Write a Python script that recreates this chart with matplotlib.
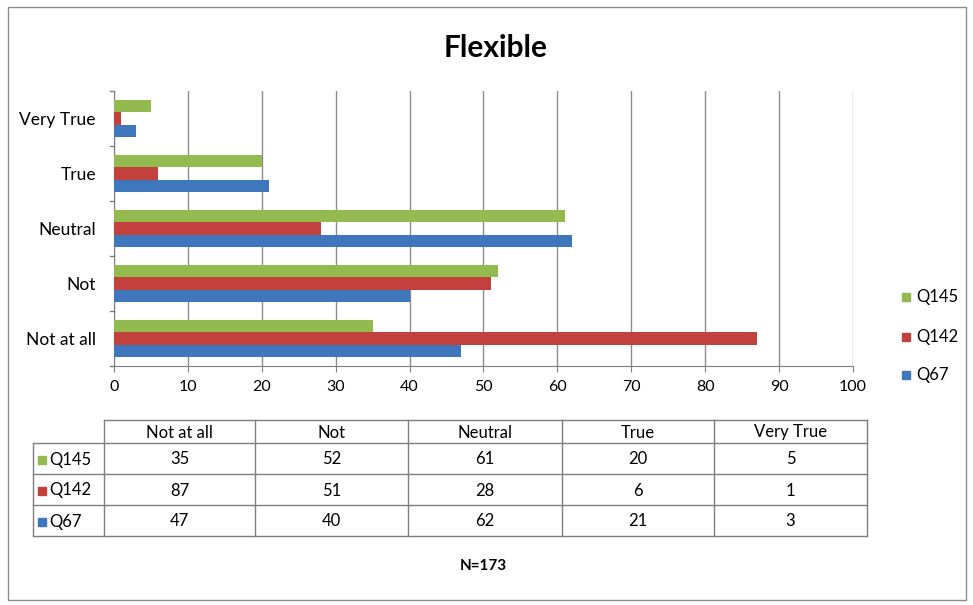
import numpy as np
import matplotlib.pyplot as plt
from matplotlib.lines import Line2D
from matplotlib.patches import Rectangle

plt.rcParams['font.family'] = ['Lato', 'DejaVu Sans']

categories = ["Not at all", "Not", "Neutral", "True", "Very True"]
series_names = ["Q67", "Q142", "Q145"]
q67 = [47, 40, 62, 21, 3]
q142 = [87, 51, 28, 6, 1]
q145 = [35, 52, 61, 20, 5]
colors = {"Q67": "#3F77BC", "Q142": "#C2413C", "Q145": "#93BA4E"}
values = {"Q67": q67, "Q142": q142, "Q145": q145}

W, H = 973, 605
fig = plt.figure(figsize=(W / 100, H / 100), dpi=100)


def fx(px):
    return px / W


def fy(py):
    return 1 - py / H


# outer chart border
fig.add_artist(Rectangle((fx(8), fy(600)), fx(958), 593 / H, fill=False,
                         edgecolor="#8c8c8c", lw=1.0, transform=fig.transFigure))

ax = fig.add_axes([fx(114), fy(366), fx(853 - 114), (366 - 91) / H])
y = np.arange(len(categories))
bh = 0.225
for i, name in enumerate(series_names):
    ax.barh(y + (i - 1) * bh, values[name], height=bh, color=colors[name],
            edgecolor="none", zorder=3)

ax.set_xlim(0, 100)
ax.set_ylim(-0.5, len(categories) - 0.5)
ax.set_xticks(np.arange(0, 101, 10))
ax.set_yticks(y)
ax.set_yticklabels(categories, fontsize=12.5)
ax.tick_params(axis="y", length=0, pad=13)
ax.tick_params(axis="x", length=4, color="#7f7f7f", labelsize=11.5, pad=6)
# category boundary ticks on y axis
for b in np.arange(-0.5, len(categories), 1):
    ax.plot([-0.006, 0], [b, b], color="#7f7f7f", lw=1, transform=ax.get_yaxis_transform(),
            clip_on=False)
ax.grid(axis="x", color="#8c8c8c", lw=1, zorder=0)
for s in ["top", "right"]:
    ax.spines[s].set_visible(False)
ax.spines["left"].set_color("#7f7f7f")
ax.spines["bottom"].set_color("#7f7f7f")

fig.text(fx(496), fy(48), "Flexible", ha="center", va="center", fontsize=21.5,
         fontweight="bold")

# legend
leg_y = {"Q145": 297, "Q142": 337, "Q67": 375}
for name in series_names:
    fig.add_artist(Rectangle((fx(902), fy(leg_y[name] + 4)), fx(8), 8 / H,
                             color=colors[name], transform=fig.transFigure))
    fig.text(fx(916), fy(leg_y[name]), name, va="center", fontsize=12)

# data table
col_x = [33, 104, 255, 408, 562, 714, 867]
row_y = [420, 443, 474, 505, 536]
lc = "#7f7f7f"


def hline(x0, x1, yy):
    fig.add_artist(Line2D([fx(x0), fx(x1)], [fy(yy), fy(yy)], color=lc, lw=1,
                          transform=fig.transFigure))


def vline(xx, y0, y1):
    fig.add_artist(Line2D([fx(xx), fx(xx)], [fy(y0), fy(y1)], color=lc, lw=1,
                          transform=fig.transFigure))


hline(col_x[1], col_x[-1], row_y[0])
for yy in row_y[1:]:
    hline(col_x[0], col_x[-1], yy)
vline(col_x[0], row_y[1], row_y[-1])
for xx in col_x[1:]:
    vline(xx, row_y[0], row_y[-1])

for j, cat in enumerate(categories):
    cx = (col_x[j + 1] + col_x[j + 2]) / 2
    fig.text(fx(cx), fy((row_y[0] + row_y[1]) / 2 + 1), cat, ha="center", va="center",
             fontsize=12)

table_order = ["Q145", "Q142", "Q67"]
for r, name in enumerate(table_order):
    cy = (row_y[r + 1] + row_y[r + 2]) / 2 + 1
    fig.add_artist(Rectangle((fx(38), fy(cy + 4)), fx(8), 8 / H, color=colors[name],
                             transform=fig.transFigure))
    fig.text(fx(49), fy(cy), name, va="center", fontsize=12)
    for j, v in enumerate(values[name]):
        cx = (col_x[j + 1] + col_x[j + 2]) / 2
        fig.text(fx(cx), fy(cy), str(v), ha="center", va="center", fontsize=12)

fig.text(fx(483), fy(566), "N=173", ha="center", va="center", fontsize=11,
         fontweight="bold")

fig.savefig("out.png", dpi=100)
